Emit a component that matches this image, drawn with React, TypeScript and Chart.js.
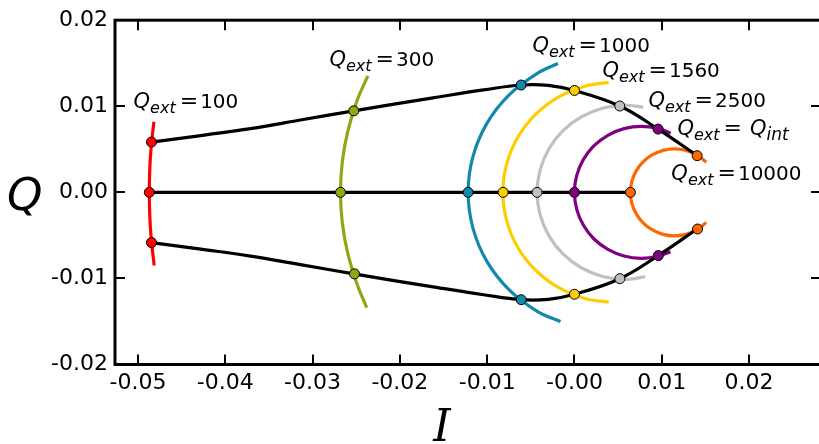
import React, { useEffect, useRef } from "react";
import { Chart, registerables } from "chart.js";
Chart.register(...registerables);

// ---- tick labels ----
const xTickValues = [-0.05, -0.04, -0.03, -0.02, -0.01, 0, 0.01, 0.02];
const xTickLabels = ["-0.05", "-0.04", "-0.03", "-0.02", "-0.01", "-0.00", "0.01", "0.02"];
const yTickValues = [-0.02, -0.01, 0, 0.01, 0.02];
const yTickLabels = ["-0.02", "-0.01", "0.00", "0.01", "0.02"];

// ---- black trajectory ----
const upperI = [-0.04845, -0.0428, -0.0371, -0.0314, -0.02528, -0.0205, -0.0162, -0.0104, -0.00611, -0.003, 0, 0.00519, 0.00958, 0.01405];
const upperQ = [0.00584, 0.0066, 0.0074, 0.0084, 0.00947, 0.01028, 0.01098, 0.0119, 0.01247, 0.01243, 0.01184, 0.01003, 0.00735, 0.00426];
const lowerI = [-0.04845, -0.0428, -0.0371, -0.0314, -0.02528, -0.0205, -0.0162, -0.0104, -0.00611, -0.003, 0, 0.00519, 0.00958, 0.01405];
const lowerQ = [-0.00584, -0.0066, -0.0074, -0.0084, -0.00947, -0.01028, -0.01098, -0.0119, -0.01247, -0.01243, -0.01184, -0.01003, -0.00735, -0.00426];
const axisI = [-0.0487, 0.00641];
const axisQ = [0, 0];

// ---- arcs (one per Q_ext) ----
const redArcI = [-0.04817, -0.04842, -0.04858, -0.04867, -0.0487, -0.04867, -0.04858, -0.04842, -0.04814];
const redArcQ = [0.0082, 0.006, 0.004, 0.002, 0, -0.002, -0.004, -0.006, -0.0085];
const greenArcI = [-0.02367, -0.02494, -0.026, -0.0266, -0.0268, -0.0266, -0.026, -0.02494, -0.0238];
const greenArcQ = [0.01354, 0.01056, 0.00695, 0.0035, 0, -0.0035, -0.00695, -0.01056, -0.0134];
const blueArcI = [-0.00189, -0.00417, -0.00748, -0.01003, -0.01163, -0.01218, -0.01163, -0.01003, -0.00748, -0.00417, -0.0016];
const blueArcQ = [0.01497, 0.01388, 0.01133, 0.00802, 0.00415, 0, -0.00415, -0.00802, -0.01133, -0.01388, -0.015];
const yellowArcI = [0.00393, 0.00129, -0.0018, -0.00445, -0.00649, -0.00776, -0.0082, -0.00776, -0.00649, -0.00445, -0.0018, 0.00129, 0.00393];
const yellowArcQ = [0.01278, 0.01236, 0.01108, 0.00905, 0.0064, 0.00331, 0, -0.00331, -0.0064, -0.00905, -0.01108, -0.01236, -0.01275];
const grayArcI = [0.0079, 0.00584, 0.00322, 0.00078, -0.00132, -0.00292, -0.00393, -0.00428, -0.00393, -0.00292, -0.00132, 0.00078, 0.00322, 0.00584, 0.0081];
const grayArcQ = [0.0099, 0.01012, 0.00977, 0.00876, 0.00716, 0.00506, 0.00262, 0, -0.00262, -0.00506, -0.00716, -0.00876, -0.00977, -0.01012, -0.0098];
const purpleArcI = [0.01102, 0.00964, 0.00766, 0.00568, 0.00383, 0.00224, 0.00103, 0.00026, 0, 0.00026, 0.00103, 0.00224, 0.00383, 0.00568, 0.00766, 0.00964, 0.011];
const purpleArcQ = [0.00688, 0.0074, 0.00766, 0.0074, 0.00663, 0.00542, 0.00383, 0.00198, 0, -0.00198, -0.00383, -0.00542, -0.00663, -0.0074, -0.00766, -0.0074, -0.0069];
const orangeArcI = [0.01509, 0.01399, 0.01277, 0.01146, 0.01015, 0.00894, 0.00789, 0.00709, 0.00658, 0.00641, 0.00658, 0.00709, 0.00789, 0.00894, 0.01015, 0.01146, 0.01277, 0.01399, 0.01509];
const orangeArcQ = [0.00351, 0.00437, 0.00488, 0.00505, 0.00488, 0.00437, 0.00357, 0.00253, 0.00131, 0, -0.00131, -0.00253, -0.00357, -0.00437, -0.00488, -0.00505, -0.00488, -0.00437, -0.00351];

// ---- marker points ----
const redDotI = [-0.04845, -0.0487, -0.04845];
const redDotQ = [0.00584, 0, -0.00584];
const greenDotI = [-0.02528, -0.0268, -0.0252];
const greenDotQ = [0.00947, 0, -0.00947];
const blueDotI = [-0.00611, -0.01218, -0.0061];
const blueDotQ = [0.01247, 0, -0.01247];
const yellowDotI = [0, -0.00817, 0];
const yellowDotQ = [0.01184, 0, -0.01184];
const grayDotI = [0.00519, -0.00428, 0.0052];
const grayDotQ = [0.01003, 0, -0.01003];
const purpleDotI = [0.00958, 0, 0.0096];
const purpleDotQ = [0.00735, 0, -0.00735];
const orangeDotI = [0.01405, 0.00641, 0.0141];
const orangeDotQ = [0.00426, 0, -0.00426];

// ---- labels ----
const labelValues = ["100", "300", "1000", "1560", "2500", "Q_int", "10000"];
const labelI = [-0.0505, -0.02806, -0.00481, 0.0032, 0.00848, 0.0118, 0.0111];
const labelQ = [0.00975, 0.0147, 0.01625, 0.01344, 0.0099, 0.00664, 0.00145];

const colors = {
  red: "#ff0000",
  green: "#8aaa12",
  blue: "#1289ab",
  yellow: "#ffcc00",
  gray: "#c0c0c0",
  purple: "#800080",
  orange: "#ff6600",
};

const pts = (xs: number[], ys: number[]) => xs.map((x, i) => ({ x, y: ys[i] }));

const boxPlugin = {
  id: "boxTicks",
  afterDraw(chart: any) {
    const { ctx, chartArea: a, scales } = chart;
    const xs = scales.x, ys = scales.y;
    ctx.save();
    ctx.strokeStyle = "#000";
    ctx.lineWidth = 2;
    const L = 10;
    xTickValues.forEach((v) => {
      const px = Math.round(xs.getPixelForValue(v));
      ctx.beginPath();
      ctx.moveTo(px, a.bottom); ctx.lineTo(px, a.bottom - L);
      ctx.moveTo(px, a.top); ctx.lineTo(px, a.top + L);
      ctx.stroke();
    });
    yTickValues.forEach((v) => {
      const py = Math.round(ys.getPixelForValue(v));
      ctx.beginPath();
      ctx.moveTo(a.left, py); ctx.lineTo(a.left + L, py);
      ctx.moveTo(a.right, py); ctx.lineTo(a.right - L, py);
      ctx.stroke();
    });
    ctx.lineWidth = 3;
    ctx.strokeRect(a.left, a.top, a.right - a.left, a.bottom - a.top);

    // axis titles
    ctx.fillStyle = "#000";
    ctx.textBaseline = "alphabetic";
    ctx.textAlign = "left";
    ctx.font = 'italic 45px "DejaVu Sans"';
    ctx.fillText("Q", 7, 210);
    ctx.font = 'italic 44px "DejaVu Serif"';
    ctx.textAlign = "center";
    ctx.fillText("I", 442, 441);
    ctx.restore();
  },
};

const labelPlugin = {
  id: "qlabels",
  afterDatasetsDraw(chart: any) {
    const { ctx, scales } = chart;
    ctx.save();
    ctx.fillStyle = "#000";
    ctx.textBaseline = "alphabetic";
    ctx.textAlign = "left";
    labelValues.forEach((val, i) => {
      let x = scales.x.getPixelForValue(labelI[i]);
      const y = scales.y.getPixelForValue(labelQ[i]);
      ctx.font = 'italic 21px "DejaVu Sans"';
      ctx.fillText("Q", x, y);
      x += ctx.measureText("Q").width;
      ctx.font = 'italic 16px "DejaVu Sans"';
      ctx.fillText("ext", x, y + 5);
      x += ctx.measureText("ext").width + 4;
      ctx.font = '22px "DejaVu Sans"';
      ctx.fillText("=", x, y);
      x += ctx.measureText("=").width + 2;
      if (val === "Q_int") {
        x += 6;
        ctx.font = 'italic 21px "DejaVu Sans"';
        ctx.fillText("Q", x, y);
        x += ctx.measureText("Q").width;
        ctx.font = 'italic 17px "DejaVu Sans"';
        ctx.fillText("int", x, y + 5);
      } else {
        ctx.font = '20px "DejaVu Sans"';
        ctx.fillText(val, x, y);
      }
    });
    ctx.restore();
  },
};

export default function App() {
  const ref = useRef<HTMLCanvasElement | null>(null);
  useEffect(() => {
    if (!ref.current) return;
    const line = (data: any[], color: string, order: number, extra: any = {}) => ({
      type: "scatter",
      data,
      showLine: true,
      borderColor: color,
      backgroundColor: color,
      borderWidth: 3.2,
      pointRadius: 0,
      pointHoverRadius: 0,
      tension: 0.34,
      order,
      ...extra,
    });
    const dots = (data: any[], color: string) => ({
      type: "scatter",
      data,
      showLine: false,
      backgroundColor: color,
      borderColor: "#000",
      borderWidth: 1,
      pointRadius: 5,
      order: 0,
    });
    const chart = new Chart(ref.current, {
      type: "scatter",
      data: {
        datasets: [
          dots(pts(redDotI, redDotQ), colors.red),
          dots(pts(greenDotI, greenDotQ), colors.green),
          dots(pts(blueDotI, blueDotQ), colors.blue),
          dots(pts(yellowDotI, yellowDotQ), colors.yellow),
          dots(pts(grayDotI, grayDotQ), colors.gray),
          dots(pts(purpleDotI, purpleDotQ), colors.purple),
          dots(pts(orangeDotI, orangeDotQ), colors.orange),
          line(pts(upperI, upperQ), "#000", 1, { tension: 0.4 }),
          line(pts(lowerI, lowerQ), "#000", 1, { tension: 0.4 }),
          line(pts(axisI, axisQ), "#000", 1, { tension: 0 }),
          line(pts(redArcI, redArcQ), colors.red, 2),
          line(pts(greenArcI, greenArcQ), colors.green, 2),
          line(pts(blueArcI, blueArcQ), colors.blue, 2),
          line(pts(yellowArcI, yellowArcQ), colors.yellow, 2),
          line(pts(grayArcI, grayArcQ), colors.gray, 2),
          line(pts(purpleArcI, purpleArcQ), colors.purple, 2),
          line(pts(orangeArcI, orangeArcQ), colors.orange, 2),
        ] as any,
      },
      options: {
        animation: false,
        responsive: false,
        events: [],
        layout: { autoPadding: false, padding: { top: 18, right: 1, left: 0, bottom: 0 } },
        plugins: { legend: { display: false }, tooltip: { enabled: false } },
        scales: {
          x: {
            type: "linear",
            min: -0.05263,
            max: 0.02824,
            grid: { display: false, drawTicks: false },
            border: { display: false },
            afterBuildTicks: (s: any) => { s.ticks = xTickValues.map((v) => ({ value: v })); },
            afterFit: (s: any) => { s.height = 79.5; },
            ticks: {
              padding: 6,
              color: "#000",
              font: { family: "DejaVu Sans", size: 22 },
              callback: (_v: any, i: number) => xTickLabels[i],
              maxRotation: 0,
            },
          },
          y: {
            type: "linear",
            min: -0.02,
            max: 0.02,
            grid: { display: false, drawTicks: false },
            border: { display: false },
            afterBuildTicks: (s: any) => { s.ticks = yTickValues.map((v) => ({ value: v })); },
            afterFit: (s: any) => { s.width = 115; },
            ticks: {
              padding: 7,
              color: "#000",
              font: { family: "DejaVu Sans", size: 22 },
              callback: (_v: any, i: number) => yTickLabels[i],
            },
          },
        },
      },
      plugins: [labelPlugin, boxPlugin],
    } as any);
    return () => chart.destroy();
  }, []);
  return (
    <div style={{ position: "fixed", left: 0, top: 0, width: 819, height: 444, overflow: "hidden", background: "#fff" }}>
      <canvas ref={ref} width={822} height={444} style={{ display: "block" }} />
    </div>
  );
}
